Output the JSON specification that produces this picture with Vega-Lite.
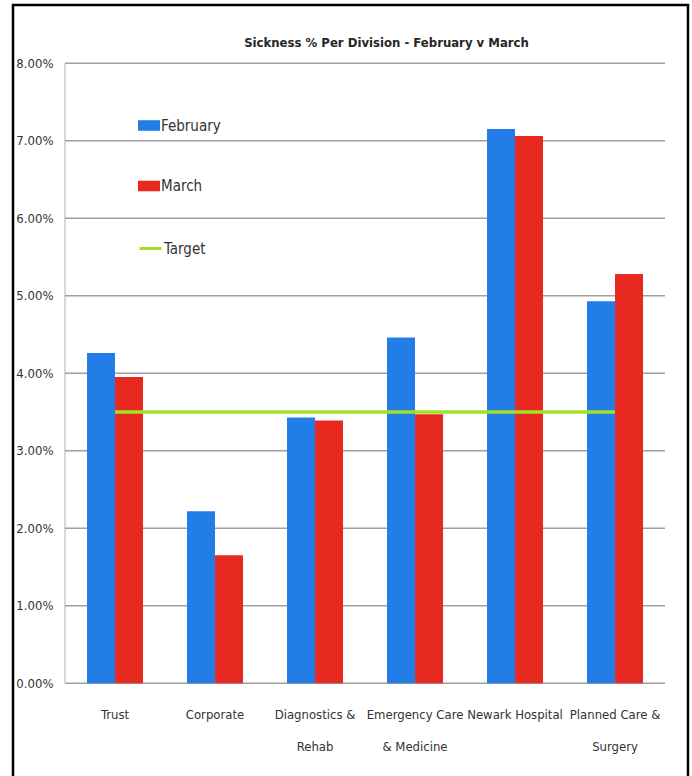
{
  "$schema": "https://vega.github.io/schema/vega-lite/v6.json",
  "width": 675,
  "height": 795,
  "autosize": {"type": "none"},
  "padding": {"left": 13, "top": 5, "right": 4, "bottom": 0},
  "background": "white",
  "config": {
    "view": {"stroke": "#000000", "strokeWidth": 2.5},
    "font": "DejaVu Sans Condensed, sans-serif"
  },
  "title": {
    "text": "Sickness % Per Division - February v March",
    "font": "DejaVu Sans Condensed, sans-serif",
    "fontSize": 13,
    "fontWeight": "bold",
    "color": "#262626",
    "anchor": "middle",
    "frame": "group",
    "baseline": "middle",
    "offset": -51,
    "dx": 36
  },
  "datasets": {
    "sickness": [
      {"division": "Trust", "month": "February", "pct": 4.26},
      {"division": "Trust", "month": "March", "pct": 3.95},
      {"division": "Corporate", "month": "February", "pct": 2.22},
      {"division": "Corporate", "month": "March", "pct": 1.65},
      {"division": "Diagnostics & Rehab", "month": "February", "pct": 3.43},
      {"division": "Diagnostics & Rehab", "month": "March", "pct": 3.39},
      {"division": "Emergency Care & Medicine", "month": "February", "pct": 4.46},
      {"division": "Emergency Care & Medicine", "month": "March", "pct": 3.47},
      {"division": "Newark Hospital", "month": "February", "pct": 7.15},
      {"division": "Newark Hospital", "month": "March", "pct": 7.06},
      {"division": "Planned Care & Surgery", "month": "February", "pct": 4.93},
      {"division": "Planned Care & Surgery", "month": "March", "pct": 5.28}
    ],
    "target": [
      {"division": "Trust", "series": "Target", "pct": 3.5},
      {"division": "Corporate", "series": "Target", "pct": 3.5},
      {"division": "Diagnostics & Rehab", "series": "Target", "pct": 3.5},
      {"division": "Emergency Care & Medicine", "series": "Target", "pct": 3.5},
      {"division": "Newark Hospital", "series": "Target", "pct": 3.5},
      {"division": "Planned Care & Surgery", "series": "Target", "pct": 3.5}
    ],
    "gridlines": [
      {"v": 0}, {"v": 1}, {"v": 2}, {"v": 3}, {"v": 4},
      {"v": 5}, {"v": 6}, {"v": 7}, {"v": 8}
    ],
    "valueAxis": [{"from": 0, "to": 8}]
  },
  "layer": [
    {
      "data": {"name": "valueAxis"},
      "mark": {"type": "rule", "color": "#d9d9d9", "strokeWidth": 2},
      "encoding": {
        "x": {
          "datum": "Trust", "type": "nominal", "bandPosition": -0.393,
          "scale": {
            "domain": ["Trust", "Corporate", "Diagnostics & Rehab", "Emergency Care & Medicine", "Newark Hospital", "Planned Care & Surgery"],
            "paddingInner": 0.44, "paddingOuter": 0.595, "align": 0.622
          },
          "axis": {
            "orient": "bottom",
            "offset": -116.8,
            "grid": false, "domain": false, "ticks": false,
            "labelAngle": 0,
            "labelPadding": 25,
            "labelFontSize": 13,
            "labelLineHeight": 32,
            "labelColor": "#333333",
            "labelFont": "DejaVu Sans Condensed, sans-serif",
            "labelExpr": "datum.value == 'Diagnostics & Rehab' ? ['Diagnostics &', 'Rehab'] : datum.value == 'Emergency Care & Medicine' ? ['Emergency Care', '& Medicine'] : datum.value == 'Planned Care & Surgery' ? ['Planned Care &', 'Surgery'] : datum.value",
            "title": null
          }
        },
        "y": {
          "field": "from", "type": "quantitative",
          "scale": {"domain": [-1.507, 8.751], "nice": false, "zero": false},
          "axis": {
            "orient": "left",
            "offset": -52,
            "values": [0, 1, 2, 3, 4, 5, 6, 7, 8],
            "labelExpr": "format(datum.value / 100, '.2%')",
            "grid": false, "domain": false, "ticks": false,
            "labelPadding": 12,
            "labelFontSize": 13,
            "labelColor": "#333333",
            "labelFont": "DejaVu Sans Condensed, sans-serif",
            "title": null
          }
        },
        "y2": {"field": "to"}
      }
    },
    {
      "data": {"name": "gridlines"},
      "mark": {"type": "rule", "color": "#a0a0a0", "strokeWidth": 1.5},
      "encoding": {
        "x": {"datum": "Trust", "type": "nominal", "bandPosition": -0.393},
        "x2": {"datum": "Planned Care & Surgery", "bandPosition": 1.393},
        "y": {"field": "v", "type": "quantitative"}
      }
    },
    {
      "data": {"name": "sickness"},
      "mark": {"type": "bar"},
      "encoding": {
        "x": {"field": "division", "type": "nominal"},
        "xOffset": {"field": "month", "type": "nominal", "scale": {"paddingInner": 0}},
        "y": {"field": "pct", "type": "quantitative"},
        "y2": {"datum": 0},
        "color": {
          "field": "month", "type": "nominal",
          "scale": {"domain": ["February", "March"], "range": ["#237DE6", "#E8291F"]},
          "legend": {
            "orient": "none",
            "legendX": 125,
            "legendY": 109.5,
            "title": null,
            "padding": 0,
            "symbolType": "M-1,-0.48H1V0.48H-1Z",
            "symbolSize": 484,
            "symbolStrokeWidth": 0,
            "labelOffset": 1,
            "rowPadding": 41.5,
            "labelFontSize": 15,
            "labelColor": "#333333",
            "labelFont": "DejaVu Sans Condensed, sans-serif"
          }
        }
      }
    },
    {
      "data": {"name": "target"},
      "mark": {"type": "line", "strokeWidth": 3.5},
      "encoding": {
        "x": {"field": "division", "type": "nominal"},
        "y": {"field": "pct", "type": "quantitative"},
        "stroke": {
          "field": "series", "type": "nominal",
          "scale": {"domain": ["Target"], "range": ["#9FE02B"]},
          "legend": {
            "orient": "none",
            "legendX": 125,
            "legendY": 231,
            "title": null,
            "padding": 0,
            "symbolType": "stroke",
            "symbolSize": 484,
            "symbolStrokeWidth": 3,
            "labelOffset": 1,
            "labelFontSize": 15,
            "labelColor": "#333333",
            "labelFont": "DejaVu Sans Condensed, sans-serif"
          }
        }
      }
    }
  ]
}
